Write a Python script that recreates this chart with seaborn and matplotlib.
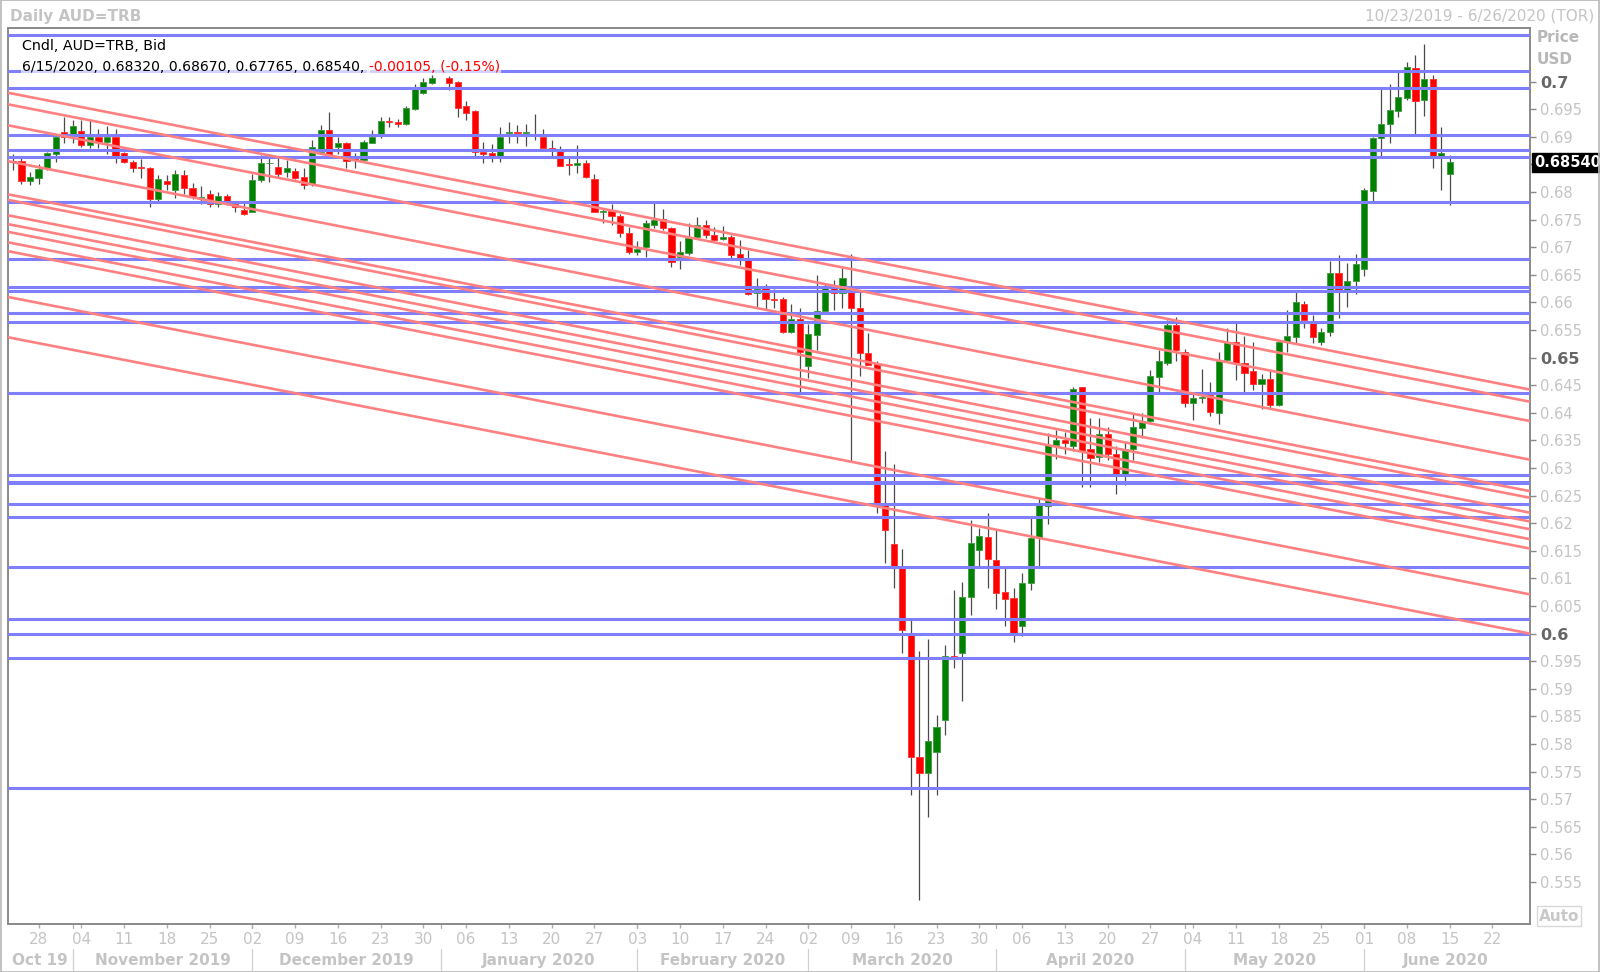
import numpy as np
import pandas as pd
import matplotlib
matplotlib.use("Agg")
import matplotlib.pyplot as plt
import matplotlib.transforms as mtransforms
from matplotlib import font_manager
from matplotlib.patches import Rectangle
import seaborn as sns

# ---- data -------------------------------------------------------------
dates = pd.bdate_range("2019-10-23", "2020-06-26")

opens = [0.6857, 0.6856, 0.6820, 0.6826, 0.6843, 0.6868, 0.6909, 0.6904, 0.6910, 0.6886,
         0.6899, 0.6890, 0.6899, 0.6871, 0.6854, 0.6846, 0.6843, 0.6787, 0.6820, 0.6804,
         0.6830, 0.6808, 0.6789, 0.6796, 0.6778, 0.6793, 0.6779, 0.6767, 0.6763, 0.6822,
         0.6852, 0.6846, 0.6836, 0.6838, 0.6828, 0.6815, 0.6873, 0.6913, 0.6882, 0.6889,
         0.6861, 0.6858, 0.6889, 0.6905, 0.6929, 0.6927, 0.6924, 0.6950, 0.6979, 0.6998,
         None, 0.7006, 0.7000, 0.6955, 0.6946, 0.6873, 0.6870, 0.6865, 0.6906, 0.6908,
         0.6906, 0.6903, 0.6899, 0.6879, 0.6875, 0.6850, 0.6849, 0.6852, 0.6823, 0.6764,
         0.6766, 0.6757, 0.6725, 0.6692, 0.6701, 0.6741, 0.6751, 0.6734, 0.6683, 0.6689,
         0.6719, 0.6741, 0.6723, 0.6714, 0.6719, 0.6687, 0.6677, 0.6617, 0.6630, 0.6606,
         0.6606, 0.6546, 0.6570, 0.6484, 0.6541, 0.6585, 0.6630, 0.6617, 0.6622, 0.6589,
         0.6508, 0.6490, 0.6233, 0.6163, 0.6120, 0.6001, 0.5777, 0.5748, 0.5786, 0.5843,
         0.5959, 0.5964, 0.6066, 0.6151, 0.6175, 0.6133, 0.6076, 0.6064, 0.6014, 0.6092,
         0.6175, 0.6231, 0.6342, 0.6351, 0.6340, 0.6446, 0.6335, 0.6320, 0.6362, 0.6325,
         0.6285, 0.6335, 0.6372, 0.6385, 0.6465, 0.6490, 0.6559, 0.6511, 0.6418, 0.6427,
         0.6432, 0.6400, 0.6496, 0.6529, 0.6491, 0.6475, 0.6453, 0.6462, 0.6414, 0.6529,
         0.6538, 0.6598, 0.6562, 0.6529, 0.6547, 0.6654, 0.6622, 0.6639, 0.6660, 0.6802,
         0.6897, 0.6924, 0.6947, 0.6971, 0.7025, 0.6967, 0.7005, 0.6866, 0.6832]
highs = [0.6868, 0.6861, 0.6837, 0.6850, 0.6873, 0.6904, 0.6936, 0.6930, 0.6930, 0.6933,
         0.6914, 0.6920, 0.6914, 0.6873, 0.6858, 0.6859, 0.6846, 0.6830, 0.6830, 0.6840,
         0.6840, 0.6816, 0.6810, 0.6804, 0.6800, 0.6796, 0.6783, 0.6783, 0.6832, 0.6867,
         0.6864, 0.6864, 0.6858, 0.6844, 0.6843, 0.6895, 0.6921, 0.6945, 0.6899, 0.6891,
         0.6870, 0.6894, 0.6913, 0.6936, 0.6936, 0.6933, 0.6955, 0.6996, 0.7006, 0.7012,
         None, 0.7010, 0.7002, 0.6964, 0.6948, 0.6891, 0.6887, 0.6917, 0.6926, 0.6921,
         0.6924, 0.6941, 0.6915, 0.6894, 0.6883, 0.6864, 0.6885, 0.6858, 0.6833, 0.6769,
         0.6778, 0.6760, 0.6737, 0.6711, 0.6749, 0.6780, 0.6770, 0.6736, 0.6711, 0.6743,
         0.6754, 0.6749, 0.6737, 0.6739, 0.6723, 0.6713, 0.6695, 0.6645, 0.6633, 0.6624,
         0.6610, 0.6597, 0.6589, 0.6560, 0.6650, 0.6635, 0.6641, 0.6663, 0.6687, 0.6620,
         0.6544, 0.6494, 0.6330, 0.6308, 0.6153, 0.6028, 0.5969, 0.5991, 0.5852, 0.5979,
         0.6079, 0.6094, 0.6206, 0.6191, 0.6219, 0.6188, 0.6122, 0.6082, 0.6110, 0.6213,
         0.6245, 0.6364, 0.6369, 0.6365, 0.6447, 0.6446, 0.6390, 0.6390, 0.6375, 0.6340,
         0.6348, 0.6400, 0.6400, 0.6478, 0.6514, 0.6568, 0.6574, 0.6515, 0.6435, 0.6479,
         0.6456, 0.6511, 0.6553, 0.6562, 0.6539, 0.6529, 0.6470, 0.6475, 0.6532, 0.6587,
         0.6620, 0.6603, 0.6577, 0.6554, 0.6675, 0.6685, 0.6671, 0.6687, 0.6808, 0.6900,
         0.6987, 0.6995, 0.7018, 0.7036, 0.7049, 0.7069, 0.7012, 0.6918, 0.6867]
lows = [0.6840, 0.6815, 0.6813, 0.6814, 0.6840, 0.6854, 0.6888, 0.6888, 0.6882, 0.6879,
        0.6879, 0.6868, 0.6852, 0.6852, 0.6837, 0.6826, 0.6773, 0.6784, 0.6804, 0.6789,
        0.6796, 0.6787, 0.6778, 0.6773, 0.6773, 0.6776, 0.6763, 0.6758, 0.6763, 0.6819,
        0.6818, 0.6828, 0.6828, 0.6824, 0.6805, 0.6810, 0.6870, 0.6864, 0.6869, 0.6843,
        0.6843, 0.6855, 0.6888, 0.6897, 0.6918, 0.6918, 0.6921, 0.6949, 0.6978, 0.6996,
        None, 0.6984, 0.6936, 0.6930, 0.6864, 0.6853, 0.6855, 0.6855, 0.6888, 0.6889,
        0.6883, 0.6894, 0.6879, 0.6864, 0.6847, 0.6831, 0.6834, 0.6825, 0.6764, 0.6743,
        0.6740, 0.6718, 0.6687, 0.6686, 0.6683, 0.6734, 0.6731, 0.6665, 0.6661, 0.6685,
        0.6716, 0.6716, 0.6713, 0.6713, 0.6681, 0.6668, 0.6614, 0.6591, 0.6586, 0.6589,
        0.6544, 0.6544, 0.6438, 0.6463, 0.6514, 0.6582, 0.6586, 0.6589, 0.6313, 0.6466,
        0.6486, 0.6218, 0.6127, 0.6082, 0.5964, 0.5708, 0.5517, 0.5668, 0.5708, 0.5816,
        0.5937, 0.5877, 0.6034, 0.6118, 0.6082, 0.6044, 0.6013, 0.5985, 0.5996, 0.6079,
        0.6120, 0.6199, 0.6316, 0.6325, 0.6330, 0.6265, 0.6266, 0.6310, 0.6315, 0.6253,
        0.6270, 0.6315, 0.6355, 0.6380, 0.6437, 0.6487, 0.6493, 0.6411, 0.6387, 0.6418,
        0.6394, 0.6380, 0.6493, 0.6459, 0.6437, 0.6441, 0.6406, 0.6408, 0.6412, 0.6511,
        0.6526, 0.6553, 0.6526, 0.6523, 0.6540, 0.6572, 0.6592, 0.6616, 0.6648, 0.6784,
        0.6864, 0.6888, 0.6936, 0.6967, 0.6904, 0.6938, 0.6844, 0.6804, 0.67765]
closes = [0.6855, 0.6820, 0.6827, 0.6841, 0.6870, 0.6900, 0.6899, 0.6920, 0.6886, 0.6900,
          0.6890, 0.6900, 0.6866, 0.6854, 0.6843, 0.6843, 0.6787, 0.6824, 0.6815, 0.6832,
          0.6807, 0.6791, 0.6791, 0.6779, 0.6793, 0.6779, 0.6773, 0.6761, 0.6822, 0.6852,
          0.6853, 0.6832, 0.6844, 0.6826, 0.6812, 0.6881, 0.6913, 0.6867, 0.6888, 0.6857,
          0.6858, 0.6891, 0.6900, 0.6929, 0.6926, 0.6923, 0.6952, 0.6988, 0.7000, 0.7006,
          None, 0.6998, 0.6952, 0.6944, 0.6873, 0.6869, 0.6865, 0.6900, 0.6908, 0.6906,
          0.6908, 0.6902, 0.6879, 0.6877, 0.6847, 0.6849, 0.6852, 0.6828, 0.6764, 0.6766,
          0.6757, 0.6725, 0.6692, 0.6696, 0.6743, 0.6749, 0.6734, 0.6674, 0.6691, 0.6716,
          0.6741, 0.6723, 0.6713, 0.6719, 0.6686, 0.6681, 0.6615, 0.6624, 0.6606, 0.6605,
          0.6546, 0.6570, 0.6511, 0.6542, 0.6585, 0.6630, 0.6617, 0.6645, 0.6589, 0.6508,
          0.6486, 0.6236, 0.6188, 0.6118, 0.6007, 0.5777, 0.5748, 0.5806, 0.5831, 0.5959,
          0.5957, 0.6067, 0.6165, 0.6176, 0.6136, 0.6074, 0.6062, 0.5999, 0.6091, 0.6174,
          0.6235, 0.6342, 0.6351, 0.6345, 0.6444, 0.6330, 0.6318, 0.6362, 0.6325, 0.6285,
          0.6335, 0.6375, 0.6385, 0.6467, 0.6493, 0.6559, 0.6513, 0.6417, 0.6427, 0.6429,
          0.6402, 0.6493, 0.6529, 0.6491, 0.6472, 0.6453, 0.6462, 0.6414, 0.6529, 0.6539,
          0.6600, 0.6568, 0.6538, 0.6547, 0.6654, 0.6622, 0.6639, 0.6669, 0.6804, 0.6897,
          0.6924, 0.6949, 0.6973, 0.7027, 0.6965, 0.7005, 0.6866, 0.6870, 0.6854]

# horizontal support / resistance levels
levels = [0.70844, 0.70198, 0.69890, 0.69033, 0.68766, 0.68640, 0.67824, 0.66786,
          0.66274, 0.66207, 0.65803, 0.65650, 0.64364, 0.62870, 0.62750, 0.62720,
          0.62347, 0.62115, 0.61203, 0.60256, 0.59985, 0.59562, 0.57210]

# diagonal trend lines: value at left edge and at right edge of the chart
trend_start = [0.6980, 0.6959, 0.6921, 0.6856, 0.6796, 0.6786, 0.6758, 0.6742,
               0.6728, 0.6709, 0.6693, 0.6610, 0.6537]
trend_end = [0.6442, 0.6420, 0.6385, 0.6315, 0.6258, 0.6246, 0.6219, 0.6203,
             0.6189, 0.6171, 0.6154, 0.6071, 0.6000]

price_ticks = [round(v, 3) for v in np.arange(0.555, 0.7001, 0.005)]
bold_ticks = [0.6, 0.65, 0.7]
last_price = "0.68540"
legend_line1 = "Cndl, AUD=TRB, Bid"
legend_line2 = "6/15/2020, 0.68320, 0.68670, 0.67765, 0.68540, "
legend_change = "-0.00105, (-0.15%)"

# ---- style ------------------------------------------------------------
sns.set_style("white")
plt.rcParams["font.family"] = ["DejaVu Sans"]

avail = {f.name for f in font_manager.fontManager.ttflist}
narrow = "Liberation Sans Narrow" if "Liberation Sans Narrow" in avail else "DejaVu Sans"

GREEN = "#008000"
RED = "#ff0000"
BLUE = "#7f7ffb"
PINK = "#ff8080"
LIGHT = "#c4c4c4"
DARK = "#666666"

fig = plt.figure(figsize=(16, 9.72), dpi=100)
ax = fig.add_axes([0.0047, 0.0494, 0.9516, 0.9215])

df = pd.DataFrame({"date": dates[:len(opens)], "open": opens, "high": highs,
                   "low": lows, "close": closes}).astype({"open": float, "high": float,
                                                          "low": float, "close": float})
df["pos"] = np.arange(len(df))
df = df.dropna()

x_lo, x_hi = -0.63, len(dates) - 0.6

# wicks
ax.vlines(df["pos"], df["low"], df["high"], color="#4a4a4a", lw=0.9, zorder=2)

# bodies
up = df["close"] >= df["open"]
body_bottom = np.minimum(df["open"], df["close"])
body_height = np.maximum((df["close"] - df["open"]).abs(), 0.00012)
ax.bar(df["pos"][up], body_height[up], bottom=body_bottom[up], width=0.72,
       color=GREEN, edgecolor="#3d9b3d", linewidth=0.6, zorder=3)
ax.bar(df["pos"][~up], body_height[~up], bottom=body_bottom[~up], width=0.72,
       color=RED, edgecolor="#ff3030", linewidth=0.6, zorder=3)

# horizontal levels
for lv in levels:
    ax.axhline(lv, color=BLUE, lw=2.2, zorder=4)

# trend lines
trend = pd.DataFrame({
    "x": np.tile([x_lo, x_hi], len(trend_start)),
    "y": np.ravel(np.column_stack([trend_start, trend_end])),
    "line": np.repeat(np.arange(len(trend_start)), 2),
})
sns.lineplot(data=trend, x="x", y="y", units="line", estimator=None,
             color=PINK, lw=1.9, ax=ax, zorder=4, legend=False)

ax.set_xlim(x_lo, x_hi)
ax.set_ylim(0.54739, 0.70966)
ax.set_xlabel("")
ax.set_ylabel("")

for sp in ax.spines.values():
    sp.set_color("#8a8a8a")
    sp.set_linewidth(1.4)

# y axis on the right
ax.yaxis.tick_right()
ax.set_yticks(price_ticks)
ylabels = []
for v in price_ticks:
    s = f"{v:.3f}".rstrip("0")
    ylabels.append("" if abs(v - 0.685) < 1e-9 else s)
ax.set_yticklabels(ylabels)
ax.tick_params(axis="y", which="both", right=True, left=False, direction="out",
               length=4, width=1, color="#8a8a8a", pad=3, labelsize=10.5,
               labelcolor=LIGHT)
for v, lab in zip(price_ticks, ax.get_yticklabels()):
    if any(abs(v - b) < 1e-9 for b in bold_ticks):
        lab.set_fontweight("bold")
        lab.set_color(DARK)
        lab.set_fontsize(11.5)

# x axis: Mondays as day numbers
all_pos = pd.Series(np.arange(len(dates)), index=dates)
mondays = all_pos[dates.weekday == 0]
ax.set_xticks(mondays.values)
ax.set_xticklabels([f"{d.day:02d}" for d in mondays.index], fontfamily=narrow)
ax.tick_params(axis="x", bottom=True, direction="out", length=3, width=1,
               color="#b0b0b0", pad=3, labelsize=11, labelcolor=LIGHT)

# month row
blend = mtransforms.blended_transform_factory(ax.transData, ax.transAxes)
month_start = all_pos.groupby([dates.year, dates.month]).min()
starts = list(month_start.values)
names = ["Oct 19", "November 2019", "December 2019", "January 2020", "February 2020",
         "March 2020", "April 2020", "May 2020", "June 2020"]
bounds = [x_lo] + starts[1:] + [len(dates) - 1]
for k, name in enumerate(names):
    c = (bounds[k] + bounds[k + 1]) / 2
    ax.text(c, -0.041, name, transform=blend, ha="center", va="center",
            fontsize=11, fontweight="bold", color=LIGHT, clip_on=False)
for s in starts[1:]:
    ax.plot([s, s], [-0.028, -0.051], transform=blend, color="#d0d0d0",
            lw=0.9, clip_on=False)
    ax.plot([s, s], [0, -0.005], transform=blend, color="#b0b0b0",
            lw=0.9, clip_on=False)

# legend text inside the plot
box = dict(facecolor="white", edgecolor="none", alpha=0.65, pad=1)
ax.text(0.0095, 0.9806, legend_line1, transform=ax.transAxes, fontsize=10.3,
        color="black", va="center", ha="left", bbox=box, zorder=6)
t2 = ax.text(0.0095, 0.9567, legend_line2, transform=ax.transAxes, fontsize=10.1,
             color="black", va="center", ha="left", bbox=box, zorder=6)
fig.canvas.draw()
bb = t2.get_window_extent(renderer=fig.canvas.get_renderer())
x_end = ax.transAxes.inverted().transform((bb.x1, bb.y0))[0]
ax.text(x_end, 0.9567, legend_change, transform=ax.transAxes, fontsize=10.1,
        color=RED, va="center", ha="left", bbox=box, zorder=6)

# last price tag
ax.annotate(last_price, xy=(1.0, closes[-1]),
            xycoords=(ax.transAxes, ax.transData), xytext=(3, 0),
            textcoords="offset points", ha="left", va="center", fontsize=10.5,
            fontweight="bold", color="white", annotation_clip=False, zorder=10,
            bbox=dict(boxstyle="square,pad=0.15", facecolor="black", edgecolor="black"))

# header texts and right-axis captions
fig.text(10 / 1600, 1 - 16 / 972, "Daily AUD=TRB", fontsize=11, fontweight="bold",
         color=LIGHT, ha="left", va="center")
fig.text(1594 / 1600, 1 - 16 / 972, "10/23/2019 - 6/26/2020 (TOR)", fontsize=11,
         color=LIGHT, ha="right", va="center")
fig.text(1537 / 1600, 1 - 37 / 972, "Price", fontsize=11, fontweight="bold",
         color="#b8b8b8", ha="left", va="center")
fig.text(1537 / 1600, 1 - 59 / 972, "USD", fontsize=11, fontweight="bold",
         color="#b8b8b8", ha="left", va="center")
fig.text(1559 / 1600, 1 - 916 / 972, "Auto", fontsize=11, fontweight="bold",
         color="#c8c8c8", ha="center", va="center",
         bbox=dict(boxstyle="square,pad=0.15", facecolor="white", edgecolor="#d8d8d8"))

# outer frame
fig.patches.append(Rectangle((0.0005, 0.0005), 0.999, 0.999, transform=fig.transFigure,
                             fill=False, edgecolor="#b8b8b8", lw=1.2))

fig.savefig("out.png", dpi=100, facecolor="white")
